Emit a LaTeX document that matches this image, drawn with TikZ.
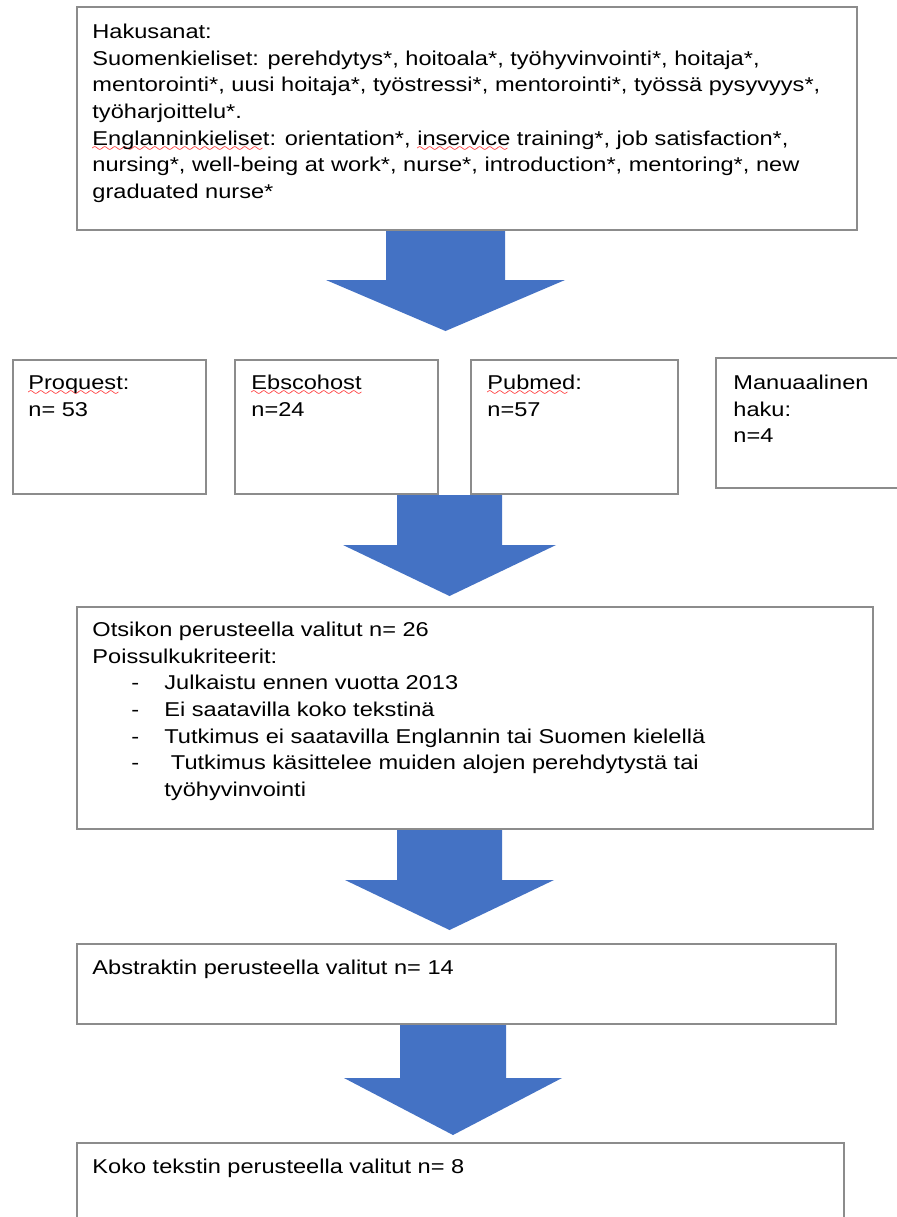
\documentclass[tikz,border=0pt]{standalone}
\usepackage{fontspec}
\setmainfont{Liberation Sans}[FakeStretch=1.18]
\usetikzlibrary{fit}
\definecolor{arrowblue}{HTML}{4472C4}
\definecolor{boxgray}{HTML}{8C8C8C}
\font\mywavefont=lasy6
\newsavebox\sqbox
\newcommand\sq[1]{\sbox\sqbox{#1}\leavevmode\rlap{\lower3pt\hbox to \wd\sqbox{\color{red}\leaders\hbox{\mywavefont\char58}\hfill}}\usebox\sqbox}
\newcommand\fl{\rule{0pt}{8pt}}
\begin{document}
\begin{tikzpicture}[x=0.5pt,y=-0.5pt,
  box/.style={draw=boxgray, line width=1.1pt, inner sep=0pt},
  txt/.style={anchor=north west, inner sep=0pt, align=left, font=\fontsize{10}{13.35}\selectfont},
  blockarrow/.style={fill=arrowblue}]
\useasboundingbox (0,0) rectangle (897,1217);
\clip (0,0) rectangle (897,1217);

% block arrows (drawn first, box borders lie over them)
\fill[blockarrow] (386,230) -- (505,230) -- (505,280) -- (565,280) -- (445.5,331) -- (326,280) -- (386,280) -- cycle;
\fill[blockarrow] (397,495) -- (502,495) -- (502,545) -- (556,545) -- (449.5,596) -- (343,545) -- (397,545) -- cycle;
\fill[blockarrow] (397,829) -- (502,829) -- (502,880) -- (554,880) -- (449.5,930) -- (345,880) -- (397,880) -- cycle;
\fill[blockarrow] (400,1024) -- (506,1024) -- (506,1078) -- (562,1078) -- (453,1135) -- (344,1078) -- (400,1078) -- cycle;

% boxes
\node[box, fit={(77,7) (857,230)}] (top) {};
\node[box, fit={(13,360) (206,494)}] (src1) {};
\node[box, fit={(235,360) (438,494)}] (src2) {};
\node[box, fit={(471,360) (678,494)}] (src3) {};
\node[box, fit={(716,358) (899,488)}] (src4) {};
\node[box, fit={(77,607) (873,829)}] (sel1) {};
\node[box, fit={(77,944) (836,1024)}] (sel2) {};
\node[box, fit={(77,1143) (844,1240)}] (sel3) {};

% texts
\node[txt] (toptext) at (92,22) {\fl Hakusanat:\\
Suomenkieliset: perehdytys*, hoitoala*, työhyvinvointi*, hoitaja*,\\
mentorointi*, uusi hoitaja*, työstressi*, mentorointi*, työssä pysyvyys*,\\
työharjoittelu*.\\
\sq{Englanninkieliset}: orientation*, \sq{inservice} training*, job satisfaction*,\\
nursing*, well-being at work*, nurse*, introduction*, mentoring*, new\\
graduated nurse*};

\node[txt] (src1text) at (28,373) {\fl\sq{Proquest}:\\n= 53};
\node[txt] (src2text) at (251,373) {\fl\sq{Ebscohost}\\n=24};
\node[txt] (src3text) at (487,373) {\fl\sq{Pubmed}:\\n=57};
\node[txt] (src4text) at (733,373) {\fl Manuaalinen\\haku:\\n=4};

\node[txt] (sel1text) at (92,620) {\fl Otsikon perusteella valitut n= 26\\
Poissulkukriteerit:\\
\hspace*{19.5pt}\makebox[16.5pt][l]{-}Julkaistu ennen vuotta 2013\\
\hspace*{19.5pt}\makebox[16.5pt][l]{-}Ei saatavilla koko tekstinä\\
\hspace*{19.5pt}\makebox[16.5pt][l]{-}Tutkimus ei saatavilla Englannin tai Suomen kielellä\\
\hspace*{19.5pt}\makebox[16.5pt][l]{-} Tutkimus käsittelee muiden alojen perehdytystä tai\\
\hspace*{36pt}työhyvinvointi};

\node[txt] (sel2text) at (92,958) {\fl Abstraktin perusteella valitut n= 14};
\node[txt] (sel3text) at (92,1157) {\fl Koko tekstin perusteella valitut n= 8};
\end{tikzpicture}
\end{document}
